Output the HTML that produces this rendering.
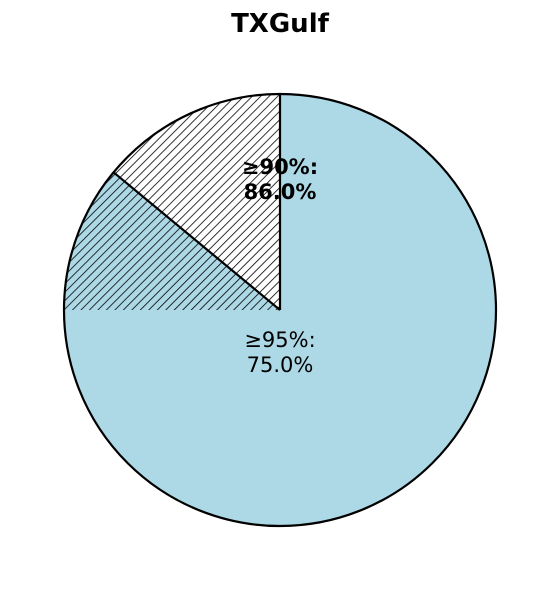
<!DOCTYPE html>
<html><head><meta charset="utf-8"><style>
html,body{margin:0;padding:0;background:#fff;}
svg{display:block;font-family:"DejaVu Sans","Liberation Sans",sans-serif;}
</style></head><body>
<svg id="chart" width="559" height="590" viewBox="0 0 559 590">
<defs>
<pattern id="hatch" patternUnits="userSpaceOnUse" width="6" height="6" patternTransform="rotate(45)">
<line x1="0" y1="0" x2="0" y2="6" stroke="#000" stroke-width="1.6"/>
</pattern>
</defs>
<text x="280" y="32" text-anchor="middle" font-size="26" font-weight="bold">TXGulf</text>
<g id="slices"></g>
<g id="labels"></g>
</svg>
<script>
const categories = ["≥95%", "90–95%", "<90%"];
const values = [75.0, 11.0, 14.0];
const fills = ["#add8e6", "#add8e6", "#ffffff"];
const hatched = [false, true, true];
const labelTexts = ["≥95%:", "≥90%:"];
const labelValues = ["75.0%", "86.0%"];

const cx = 280, cy = 310, r = 216;
const NS = "http://www.w3.org/2000/svg";
const total = values.reduce((a,b)=>a+b,0);
const g = document.getElementById("slices");
function pt(angDeg){ const a = angDeg*Math.PI/180; return [cx + r*Math.cos(a), cy - r*Math.sin(a)]; }
let start = 90;
const names = ["slice-ge95", "slice-90-95", "slice-lt90"];
const boundaries = [];
values.forEach((v,i)=>{
  const sweep = v/total*360;
  const end = start - sweep;
  const p1 = pt(start), p2 = pt(end);
  const large = sweep > 180 ? 1 : 0;
  const d = `M${cx},${cy} L${p1[0]},${p1[1]} A${r},${r} 0 ${large} 1 ${p2[0]},${p2[1]} Z`;
  const path = document.createElementNS(NS,"path");
  path.setAttribute("d", d);
  path.setAttribute("fill", fills[i]);
  path.setAttribute("stroke", "none");
  
  
  g.appendChild(path);
  if (hatched[i]) {
    const h = document.createElementNS(NS,"path");
    h.setAttribute("d", d);
    h.setAttribute("fill", "url(#hatch)");
    h.setAttribute("stroke", "none");
    
    
    g.appendChild(h);
  }
  boundaries.push(end);
  start = end;
});
const edgeAngles = [90, boundaries[1]];
edgeAngles.forEach((a,i)=>{
  const p = pt(a);
  const ln = document.createElementNS(NS,"line");
  ln.setAttribute("x1", cx); ln.setAttribute("y1", cy);
  ln.setAttribute("x2", p[0]); ln.setAttribute("y2", p[1]);
  ln.setAttribute("stroke", "#000"); ln.setAttribute("stroke-width", "2.2");
  
  
  g.appendChild(ln);
});
const outline = document.createElementNS(NS,"circle");
outline.setAttribute("cx", cx); outline.setAttribute("cy", cy); outline.setAttribute("r", r);
outline.setAttribute("fill", "none"); outline.setAttribute("stroke", "#000"); outline.setAttribute("stroke-width", "2.2");


g.appendChild(outline);

const lg = document.getElementById("labels");
const labelY = [347, 174];
const bold = [false, true];
labelTexts.forEach((t,i)=>{
  const tx = document.createElementNS(NS,"text");
  tx.setAttribute("x", cx);
  tx.setAttribute("y", labelY[i]);
  tx.setAttribute("text-anchor", "middle");
  tx.setAttribute("font-size", "21");
  if (bold[i]) tx.setAttribute("font-weight", "bold");
  
  
  const s1 = document.createElementNS(NS,"tspan");
  s1.setAttribute("x", cx); s1.textContent = t;
  const s2 = document.createElementNS(NS,"tspan");
  s2.setAttribute("x", cx); s2.setAttribute("dy", "25"); s2.textContent = labelValues[i];
  tx.appendChild(s1); tx.appendChild(s2);
  lg.appendChild(tx);
});
</script>
</body></html>
